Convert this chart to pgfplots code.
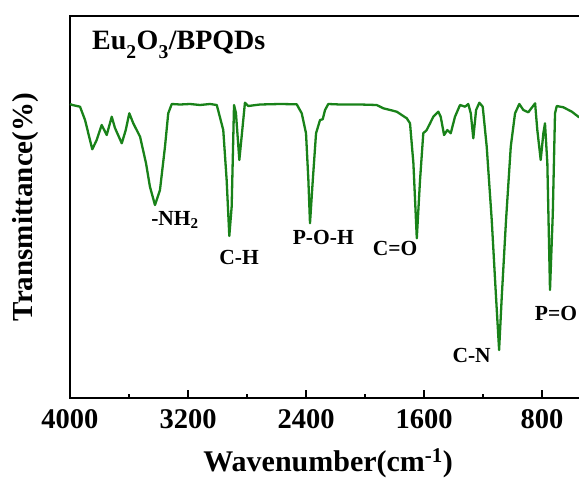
\documentclass[border=0pt]{standalone}
\usepackage{pgfplots}
\pgfplotsset{compat=1.18}
\usepackage{fontspec}
\setmainfont{Liberation Serif}
\definecolor{irgreen}{RGB}{25,130,25}
\begin{document}
\begin{tikzpicture}
\useasboundingbox (-70pt,-82pt) rectangle (509pt,398pt);
\clip (-70pt,-82pt) rectangle (509pt,398pt);
\begin{axis}[
  at={(0pt,0pt)}, anchor=south west,
  scale only axis, width=516.3pt, height=382pt,
  x dir=reverse, xmin=500, xmax=4000, ymin=0, ymax=382,
  xtick={4000,3200,2400,1600,800}, minor xtick={3600,2800,2000,1200},
  xtick pos=bottom, ytick=\empty, tick align=inside,
  major tick length=8pt, minor tick length=4pt,
  axis line style={line width=1.6pt},
  every tick/.style={line width=1.4pt, black},
  ticklabel style={font=\fontsize{28.5}{28.5}\selectfont\bfseries},
  xticklabel style={yshift=-8pt},
  /pgf/number format/assume math mode=true,
  /pgf/number format/1000 sep={},
  xlabel={Wavenumber(cm\textsuperscript{-1})},
  ylabel={Transmittance(\%)},
  label style={font=\fontsize{29}{29}\selectfont\bfseries},
  xlabel style={yshift=-13pt, font=\fontsize{30}{30}\selectfont\bfseries},
  ylabel style={yshift=28pt},
  clip=false,
]
\addplot[irgreen, line width=2.3pt, line join=round] table {
x y
4000 294
3984 293
3932 291.3
3898 278
3849 248.7
3819 258
3785 273
3751 263
3717 281.3
3695 270
3649 254.7
3622 268
3598 284.7
3571 274.7
3525 261.3
3485 235
3458 211.3
3424 193
3390 208
3356 251.3
3334 284.7
3310 294
3254 293.5
3186 294
3119 293
3051 294
3005 293
2961 268
2938 218
2920 162
2904 191.3
2888 293
2875 285
2852 238
2832 268
2814 295.3
2791 292
2712 293.5
2576 294
2463 293.7
2429 284.7
2400 264.7
2384 218
2373 174.7
2354 218
2332 264.7
2305 278
2287 278.7
2271 288
2249 294
2169 293.5
2034 293.5
1921 293
1876 289.7
1830 288
1785 286.3
1717 279.7
1695 274.7
1672 234.7
1649 159.7
1627 218
1605 264.7
1582 268
1559 274.7
1537 281.3
1503 286.3
1487 281.3
1464 263
1442 268
1419 264.7
1390 281.3
1356 293
1322 291.3
1300 294
1283 284.7
1266 259.7
1247 288
1225 295.3
1202 291.3
1175 251.3
1141 178
1112 101.3
1091 48
1073 101.3
1044 178
1012 251.3
983 284.7
954 294
927 288
893 285.7
847 294.7
832 268
809 238
791 264.7
780 274.7
764 234.7
746 108
727 184.7
712 284.7
700 292
655 290.7
598 286.3
554 281.3
500 277
};
\begin{scope}[every node/.style={font=\fontsize{21.5}{21.5}\selectfont\bfseries, inner sep=0pt}]
\node at (axis cs:3288,178) {-NH\textsubscript{2}};
\node at (axis cs:2854,141) {C-H};
\node at (axis cs:2283,161) {P-O-H};
\node at (axis cs:1796,150) {C=O};
\node at (axis cs:1277,43) {C-N};
\node at (axis cs:705,85) {P=O};
\end{scope}
\end{axis}
\node[anchor=base west, inner sep=0pt, font=\fontsize{28}{28}\selectfont\bfseries] at (22pt,348pt) {Eu\raisebox{-0.35ex}{\textsubscript{2}}O\raisebox{-0.35ex}{\textsubscript{3}}/BPQDs};
\end{tikzpicture}
\end{document}
